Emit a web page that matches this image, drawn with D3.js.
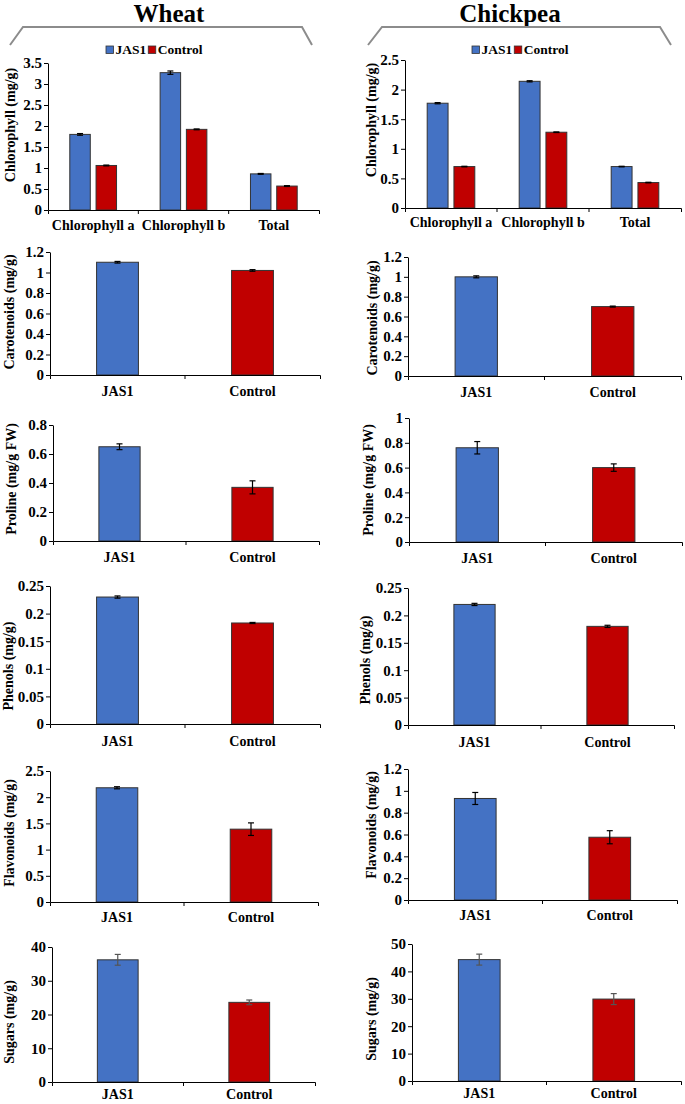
<!DOCTYPE html>
<html>
<head>
<meta charset="utf-8">
<script src="https://cdn.jsdelivr.net/npm/d3@7"></script>
<style>
  html, body { margin: 0; padding: 0; background: #fff; }
  svg { display: block; font-family: "Liberation Serif", "Times New Roman", serif; font-weight: bold; }
  svg text { font-family: "Liberation Serif", "Times New Roman", serif; font-weight: bold; }
</style>
</head>
<body>
<svg id="chart" width="685" height="1104"></svg>
<script>
// ---------- DATA ----------
const species = ["Wheat", "Chickpea"];
const seriesNames = ["JAS1", "Control"];
const chlCategories = ["Chlorophyll a", "Chlorophyll b", "Total"];

const wheatChlJAS1 = [1.80, 3.27, 0.86];
const wheatChlJAS1Err = [0.02, 0.04, 0.01];
const wheatChlControl = [1.06, 1.92, 0.57];
const wheatChlControlErr = [0.01, 0.01, 0.01];
const chickpeaChlJAS1 = [1.77, 2.14, 0.70];
const chickpeaChlJAS1Err = [0.01, 0.01, 0.005];
const chickpeaChlControl = [0.70, 1.28, 0.43];
const chickpeaChlControlErr = [0.005, 0.005, 0.005];

const treatments = ["JAS1", "Control"];
const wheatCarotenoids = [1.10, 1.02];
const wheatCarotenoidsErr = [0.008, 0.008];
const wheatProline = [0.65, 0.37];
const wheatProlineErr = [0.02, 0.045];
const wheatPhenols = [0.23, 0.183];
const wheatPhenolsErr = [0.002, 0.001];
const wheatFlavonoids = [2.18, 1.39];
const wheatFlavonoidsErr = [0.02, 0.12];
const wheatSugars = [36.2, 23.6];
const wheatSugarsErr = [1.6, 0.7];

const chickpeaCarotenoids = [1.00, 0.70];
const chickpeaCarotenoidsErr = [0.01, 0.005];
const chickpeaProline = [0.76, 0.60];
const chickpeaProlineErr = [0.05, 0.03];
const chickpeaPhenols = [0.22, 0.18];
const chickpeaPhenolsErr = [0.002, 0.002];
const chickpeaFlavonoids = [0.93, 0.575];
const chickpeaFlavonoidsErr = [0.055, 0.06];
const chickpeaSugars = [44.3, 29.9];
const chickpeaSugarsErr = [2.0, 2.0];

const wheatChlTicks = [0, 0.5, 1, 1.5, 2, 2.5, 3, 3.5];
const chickpeaChlTicks = [0, 0.5, 1, 1.5, 2, 2.5];
const carotenoidTicks = [0, 0.2, 0.4, 0.6, 0.8, 1, 1.2];
const wheatProlineTicks = [0, 0.2, 0.4, 0.6, 0.8];
const chickpeaProlineTicks = [0, 0.2, 0.4, 0.6, 0.8, 1];
const phenolTicks = [0, 0.05, 0.1, 0.15, 0.2, 0.25];
const wheatFlavonoidTicks = [0, 0.5, 1, 1.5, 2, 2.5];
const chickpeaFlavonoidTicks = [0, 0.2, 0.4, 0.6, 0.8, 1, 1.2];
const wheatSugarTicks = [0, 10, 20, 30, 40];
const chickpeaSugarTicks = [0, 10, 20, 30, 40, 50];

const yLabels = {
  chl: "Chlorophyll (mg/g)", car: "Carotenoids (mg/g)", pro: "Proline (mg/g FW)",
  phe: "Phenols (mg/g)", fla: "Flavonoids (mg/g)", sug: "Sugars (mg/g)"
};

// ---------- STYLE / LAYOUT ----------
const colors = { JAS1: "#4472C4", Control: "#C00000" };
const FONT = 14;
const TICKFONT = 15;
const SERIF = '"Liberation Serif", "Times New Roman", serif';

const layout = {
  wheat: {
    title: { x: 169, y: 22 },
    bracket: [[10, 45], [23, 27], [302, 27], [312, 45]],
    legend: { x: 106, y: 46 },
    chl: { l: 48, r: 319, t: 63, b: 210, lx: 10, ly: 125, pad: 10 },
    car: { l: 50, r: 320, t: 252, b: 375, lx: 9, ly: 312, pad: 11 },
    pro: { l: 53, r: 319, t: 425, b: 541, lx: 11, ly: 479, pad: 11 },
    phe: { l: 50, r: 320, t: 586, b: 724, lx: 8, ly: 666, pad: 12 },
    fla: { l: 50, r: 318, t: 771, b: 902, lx: 9, ly: 833, pad: 10 },
    sug: { l: 52, r: 315, t: 947, b: 1082, lx: 9, ly: 1022, pad: 7 }
  },
  chickpea: {
    title: { x: 510, y: 22 },
    bracket: [[368, 45], [382, 27], [660, 27], [671, 45]],
    legend: { x: 472, y: 46 },
    chl: { l: 405, r: 681, t: 60, b: 208, lx: 371, ly: 120, pad: 9 },
    car: { l: 408, r: 681, t: 257, b: 376, lx: 372, ly: 318, pad: 11 },
    pro: { l: 409, r: 682, t: 418, b: 542, lx: 368, ly: 480, pad: 11 },
    phe: { l: 408, r: 674, t: 588, b: 725, lx: 365, ly: 660, pad: 12 },
    fla: { l: 408, r: 677, t: 769, b: 900, lx: 371, ly: 825, pad: 10 },
    sug: { l: 412, r: 681, t: 944, b: 1081, lx: 371, ly: 1019, pad: 7 }
  }
};

const svg = d3.select("#chart");

function styleAxis(size) {
  return a => {
    a.attr("font-family", SERIF).attr("font-size", size).attr("font-weight", "bold");
    a.selectAll("path,line").attr("stroke", "#000");
    a.selectAll("text").attr("fill", "#000");
  };
}

function yAxisAndLabel(g, cfg, y, ticks, label) {
  g.append("g")
    .attr("transform", `translate(${cfg.l},0)`)
    .call(d3.axisLeft(y).tickValues(ticks).tickFormat(d => String(d)).tickSize(4).tickSizeOuter(0).tickPadding(2))
    .call(styleAxis(TICKFONT));
  g.append("text")
    .attr("transform", `translate(${cfg.lx},${cfg.ly}) rotate(-90)`)
    .attr("text-anchor", "middle").attr("dominant-baseline", "central")
    .attr("font-size", FONT).attr("fill", "#000").text(label);
}

function xAxis(g, cfg, x) {
  g.append("g")
    .attr("transform", `translate(0,${cfg.b})`)
    .call(d3.axisBottom(x).tickSize(0).tickSizeOuter(4).tickPadding(cfg.pad))
    .call(styleAxis(FONT));
  g.selectAll(null).data(x.domain().slice(1)).enter().append("line")
    .attr("x1", d => x(d)).attr("x2", d => x(d))
    .attr("y1", cfg.b).attr("y2", cfg.b + 4).attr("stroke", "#000");
}

function errBar(g, cx, y, v, e, color) {
  const cap = 3;
  g.append("line").attr("x1", cx).attr("x2", cx).attr("y1", y(v + e)).attr("y2", y(v - e)).attr("stroke", color).attr("stroke-width", 1.2);
  [v + e, v - e].forEach(val =>
    g.append("line").attr("x1", cx - cap).attr("x2", cx + cap).attr("y1", y(val)).attr("y2", y(val)).attr("stroke", color).attr("stroke-width", 1.2));
}

function drawGrouped(cfg, series, errs, ticks, label) {
  const g = svg.append("g");
  const y = d3.scaleLinear().domain([0, d3.max(ticks)]).range([cfg.b, cfg.t]);
  const x0 = d3.scaleBand().domain(chlCategories).range([cfg.l, cfg.r]).padding(0);
  const x1 = d3.scaleBand().domain(seriesNames).range([0, x0.bandwidth()]).paddingInner(0.22).paddingOuter(0.83);
  chlCategories.forEach((c, i) => {
    seriesNames.forEach((s, j) => {
      const v = series[j][i];
      const bx = x0(c) + x1(s);
      g.append("rect").attr("x", bx).attr("y", y(v)).attr("width", x1.bandwidth()).attr("height", y(0) - y(v))
        .attr("fill", colors[s]).attr("stroke", "#333").attr("stroke-width", 1);
      errBar(g, bx + x1.bandwidth() / 2, y, v, errs[j][i], "#000");
    });
  });
  yAxisAndLabel(g, cfg, y, ticks, label);
  xAxis(g, cfg, x0);
}

function drawSimple(cfg, values, errs, ticks, label, errColor) {
  const g = svg.append("g");
  const y = d3.scaleLinear().domain([0, d3.max(ticks)]).range([cfg.b, cfg.t]);
  const x = d3.scaleBand().domain(treatments).range([cfg.l, cfg.r]).padding(0);
  const bw = x.bandwidth() * 0.31;
  treatments.forEach((t, i) => {
    const cx = x(t) + x.bandwidth() / 2;
    g.append("rect").attr("x", cx - bw / 2).attr("y", y(values[i])).attr("width", bw).attr("height", y(0) - y(values[i]))
      .attr("fill", colors[t]).attr("stroke", "#333").attr("stroke-width", 1);
    errBar(g, cx, y, values[i], errs[i], errColor);
  });
  yAxisAndLabel(g, cfg, y, ticks, label);
  xAxis(g, cfg, x);
}

function header(L, name) {
  svg.append("text").attr("x", L.title.x).attr("y", L.title.y).attr("text-anchor", "middle")
    .attr("font-size", 25).attr("fill", "#000").text(name);
  svg.append("path").attr("d", d3.line()(L.bracket)).attr("fill", "none").attr("stroke", "#8c8c8c").attr("stroke-width", 2);
  const lg = svg.append("g").attr("transform", `translate(${L.legend.x},${L.legend.y})`);
  let off = 0;
  seriesNames.forEach(s => {
    lg.append("rect").attr("x", off).attr("y", 0).attr("width", 7.5).attr("height", 7.5)
      .attr("fill", colors[s]).attr("stroke", "#333").attr("stroke-width", 0.8);
    const t = lg.append("text").attr("x", off + 9.5).attr("y", 8).attr("font-size", 13.5).attr("fill", "#000").text(s);
    off += 9.5 + t.node().getComputedTextLength() + 2;
  });
}

// ---------- DRAW ----------
header(layout.wheat, species[0]);
header(layout.chickpea, species[1]);

drawGrouped(layout.wheat.chl, [wheatChlJAS1, wheatChlControl], [wheatChlJAS1Err, wheatChlControlErr], wheatChlTicks, yLabels.chl);
drawGrouped(layout.chickpea.chl, [chickpeaChlJAS1, chickpeaChlControl], [chickpeaChlJAS1Err, chickpeaChlControlErr], chickpeaChlTicks, yLabels.chl);

drawSimple(layout.wheat.car, wheatCarotenoids, wheatCarotenoidsErr, carotenoidTicks, yLabels.car, "#000");
drawSimple(layout.chickpea.car, chickpeaCarotenoids, chickpeaCarotenoidsErr, carotenoidTicks, yLabels.car, "#000");
drawSimple(layout.wheat.pro, wheatProline, wheatProlineErr, wheatProlineTicks, yLabels.pro, "#000");
drawSimple(layout.chickpea.pro, chickpeaProline, chickpeaProlineErr, chickpeaProlineTicks, yLabels.pro, "#000");
drawSimple(layout.wheat.phe, wheatPhenols, wheatPhenolsErr, phenolTicks, yLabels.phe, "#000");
drawSimple(layout.chickpea.phe, chickpeaPhenols, chickpeaPhenolsErr, phenolTicks, yLabels.phe, "#000");
drawSimple(layout.wheat.fla, wheatFlavonoids, wheatFlavonoidsErr, wheatFlavonoidTicks, yLabels.fla, "#000");
drawSimple(layout.chickpea.fla, chickpeaFlavonoids, chickpeaFlavonoidsErr, chickpeaFlavonoidTicks, yLabels.fla, "#000");
drawSimple(layout.wheat.sug, wheatSugars, wheatSugarsErr, wheatSugarTicks, yLabels.sug, "#555");
drawSimple(layout.chickpea.sug, chickpeaSugars, chickpeaSugarsErr, chickpeaSugarTicks, yLabels.sug, "#555");
</script>
</body>
</html>
